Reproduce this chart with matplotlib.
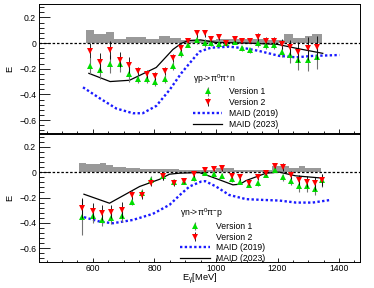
import matplotlib
matplotlib.use("Agg")
import matplotlib.pyplot as plt
from matplotlib.ticker import MultipleLocator, FuncFormatter

plt.rcParams["font.family"] = ["Liberation Sans", "DejaVu Sans"]
plt.rcParams["mathtext.fontset"] = "custom"
plt.rcParams["mathtext.rm"] = "Liberation Sans"
plt.rcParams["mathtext.it"] = "Liberation Sans:italic"

# ---- gamma p -> pi0 pi+ n ----
e_top = [590, 624, 656, 689, 719, 747, 777, 801, 833, 859, 885, 910,
         939, 963, 984, 1009, 1033, 1061, 1086, 1112, 1136, 1163, 1188, 1213, 1239, 1268, 1298, 1329]
v1_top = [-0.18, -0.21, -0.165, -0.165, -0.24, -0.28, -0.28, -0.305, -0.28, -0.18, -0.075, -0.013,
          0.023, 0.003, 0.0, -0.01, 0.0, 0.01, -0.04, -0.055, 0.0, -0.013, -0.013, -0.067, -0.093, -0.13, -0.13, -0.11]
v2_top = [-0.06, -0.15, -0.055, -0.13, -0.17, -0.215, -0.24, -0.255, -0.22, -0.115, -0.035, 0.02,
          0.075, 0.075, 0.03, 0.044, 0.003, 0.029, 0.02, 0.02, 0.05, 0.02, 0.02, -0.01, -0.034, -0.07, -0.04, -0.034]
err_top = [0.06, 0.07, 0.07, 0.06, 0.06, 0.03, 0.03, 0.03, 0.03, 0.03, 0.03, 0.02,
           0.03, 0.03, 0.02, 0.02, 0.02, 0.02, 0.02, 0.02, 0.03, 0.03, 0.03, 0.04, 0.06, 0.08, 0.09, 0.09]
maid19_top_e = [568, 622, 676, 730, 762, 806, 849, 887, 914, 946, 984, 1043, 1098, 1141, 1206, 1260, 1314, 1401]
maid19_top = [-0.345, -0.43, -0.51, -0.547, -0.547, -0.49, -0.366, -0.236, -0.158, -0.067, -0.036, -0.028,
              -0.042, -0.062, -0.10, -0.111, -0.10, -0.093]
maid23_top_e = [587, 656, 719, 806, 838, 860, 887, 910, 950, 1000, 1100, 1200, 1260, 1347]
maid23_top = [-0.236, -0.30, -0.29, -0.19, -0.107, -0.05, -0.003, 0.02, 0.025, 0.005, 0.0, -0.01, -0.04, -0.08]
sys_top_edges = [578, 603, 643, 670, 708, 741, 773, 816, 849, 887, 1000, 1100, 1160, 1222, 1250, 1290, 1313, 1345]
sys_top = [0.10, 0.07, 0.085, 0.035, 0.045, 0.05, 0.03, 0.055, 0.04, 0.025, 0.035, 0.03, 0.025, 0.068, 0.036, 0.055, 0.068]

# ---- gamma n -> pi0 pi- p ----
e_bot = [566, 600, 630, 659, 695, 727, 760, 790, 828, 862, 895,
         928, 965, 995, 1020, 1051, 1078, 1108, 1137, 1163, 1192, 1218, 1245, 1270, 1297, 1321, 1346]
v1_bot = [-0.355, -0.345, -0.377, -0.358, -0.345, -0.232, -0.166, -0.06, -0.029, -0.074, -0.074,
          -0.047, -0.003, -0.016, -0.029, -0.055, -0.074, -0.10, -0.087, -0.021, 0.018, -0.042, -0.069, -0.113, -0.113, -0.134, -0.065]
v2_bot = [-0.284, -0.306, -0.319, -0.311, -0.298, -0.179, -0.18, -0.082, -0.029, -0.087, -0.066,
          -0.016, 0.018, 0.026, 0.032, -0.029, -0.042, -0.082, -0.042, -0.003, 0.05, 0.042, -0.021, -0.061, -0.074, -0.087, -0.061]
err1_bot = [0.14, 0.06, 0.05, 0.05, 0.05, 0.03, 0.03, 0.03, 0.03, 0.02, 0.02,
            0.02, 0.02, 0.02, 0.02, 0.02, 0.02, 0.02, 0.02, 0.02, 0.02, 0.03, 0.03, 0.04, 0.04, 0.05, 0.05]
err2_bot = [0.08, 0.06, 0.06, 0.05, 0.06, 0.03, 0.03, 0.03, 0.03, 0.02, 0.02,
            0.02, 0.02, 0.02, 0.02, 0.02, 0.02, 0.02, 0.02, 0.02, 0.02, 0.03, 0.03, 0.04, 0.04, 0.05, 0.05]
maid19_bot_e = [571, 622, 665, 730, 795, 849, 885, 914, 952, 965, 1000, 1043, 1098, 1152, 1206, 1260, 1314, 1373]
maid19_bot = [-0.355, -0.39, -0.403, -0.377, -0.329, -0.258, -0.175, -0.113, -0.074, -0.071, -0.113, -0.18,
              -0.213, -0.219, -0.224, -0.24, -0.24, -0.219]
maid23_bot_e = [571, 654, 752, 817, 849, 881, 946, 1000, 1055, 1078, 1098, 1163, 1206, 1259, 1346]
maid23_bot = [-0.174, -0.245, -0.113, -0.056, -0.016, -0.008, -0.003, -0.05, -0.1, -0.095, -0.066, -0.008, 0.0, -0.029, -0.047]
sys_bot_edges = [554, 579, 622, 643, 665, 708, 752, 881, 1000, 1060, 1183, 1238, 1270, 1290, 1340]
sys_bot = [0.076, 0.066, 0.076, 0.06, 0.04, 0.03, 0.022, 0.02, 0.03, 0.02, 0.05, 0.035, 0.045, 0.03]

FS = 6.2
GREEN = "#00dd00"
RED = "#ff0000"


def fmt_y(v, _):
    return "0" if abs(v) < 1e-9 else f"{v:.1f}".replace("-", "\u2212")


def draw_panel(ax, e, v1, v2, err1, err2, e19, y19, e23, y23, sys_edges, sys_h, title, leg_xy):
    ax.stairs(sys_h, sys_edges, baseline=0, fill=True, color="#999999", lw=0, zorder=1)
    ax.axhline(0, color="k", lw=0.9, ls=(0, (2, 1.5)), zorder=2)
    l19, = ax.plot(e19, y19, color="#1a1aff", lw=1.7, ls=(0, (1, 1)), label="MAID (2019)", zorder=3)
    l23, = ax.plot(e23, y23, color="k", lw=0.9, label="MAID (2023)", zorder=3)
    h1 = ax.errorbar(e, v1, yerr=err1, fmt="^", color=GREEN, ms=3.9, mew=0, ecolor="0.45",
                     elinewidth=0.8, capsize=0, label="Version 1", zorder=4)
    h2 = ax.errorbar(e, v2, yerr=err2, fmt="v", color=RED, ms=3.9, mew=0, ecolor="k",
                     elinewidth=0.6, capsize=0, label="Version 2", zorder=5)

    ax.set_xlim(425, 1468)
    ax.set_ylim(-0.705, 0.305)
    ax.xaxis.set_major_locator(MultipleLocator(200))
    ax.xaxis.set_minor_locator(MultipleLocator(50))
    ax.yaxis.set_major_locator(MultipleLocator(0.2))
    ax.yaxis.set_minor_locator(MultipleLocator(0.04))
    ax.yaxis.set_major_formatter(FuncFormatter(fmt_y))
    ax.tick_params(axis="y", which="major", direction="in", length=8, width=0.6, labelsize=FS, pad=2)
    ax.tick_params(axis="y", which="minor", direction="in", length=3.6, width=0.6)
    ax.tick_params(axis="x", which="major", direction="in", length=3.1, width=0.6, labelsize=FS, pad=1.5)
    ax.tick_params(axis="x", which="minor", direction="in", length=1.6, width=0.6)
    for s in ax.spines.values():
        s.set_linewidth(0.7)
    ax.set_ylabel("E", fontsize=FS + 0.5, labelpad=3.5)

    leg = ax.legend(handles=[h1, h2, l19, l23], title=title, loc="upper left",
                    bbox_to_anchor=leg_xy, frameon=False, fontsize=FS, title_fontsize=FS,
                    handlelength=3.4, handletextpad=0.8, labelspacing=0.2, borderpad=0,
                    borderaxespad=0, alignment="left")
    return leg


fig = plt.figure(figsize=(3.74, 2.88), dpi=100)
ax1 = fig.add_axes([0.1043, 0.5365, 0.8583, 0.4497])
ax2 = fig.add_axes([0.1043, 0.0920, 0.8583, 0.4444])

draw_panel(ax1, e_top, v1_top, v2_top, err_top, err_top, maid19_top_e, maid19_top,
           maid23_top_e, maid23_top, sys_top_edges, sys_top,
           "\u03b3p->\u03c0$^{0}$\u03c0$^{+}$n", (0.48, 0.475))
draw_panel(ax2, e_bot, v1_bot, v2_bot, err1_bot, err2_bot, maid19_bot_e, maid19_bot,
           maid23_bot_e, maid23_bot, sys_bot_edges, sys_bot,
           "\u03b3n->\u03c0$^{0}$\u03c0$^{-}$p", (0.44, 0.43))

ax1.tick_params(axis="x", labelbottom=False)
ax2.set_xlabel("E$_{\\mathrm{\u03b3}}$[MeV]", fontsize=FS + 0.5, labelpad=-0.8)

fig.savefig("out.png", dpi=100)
